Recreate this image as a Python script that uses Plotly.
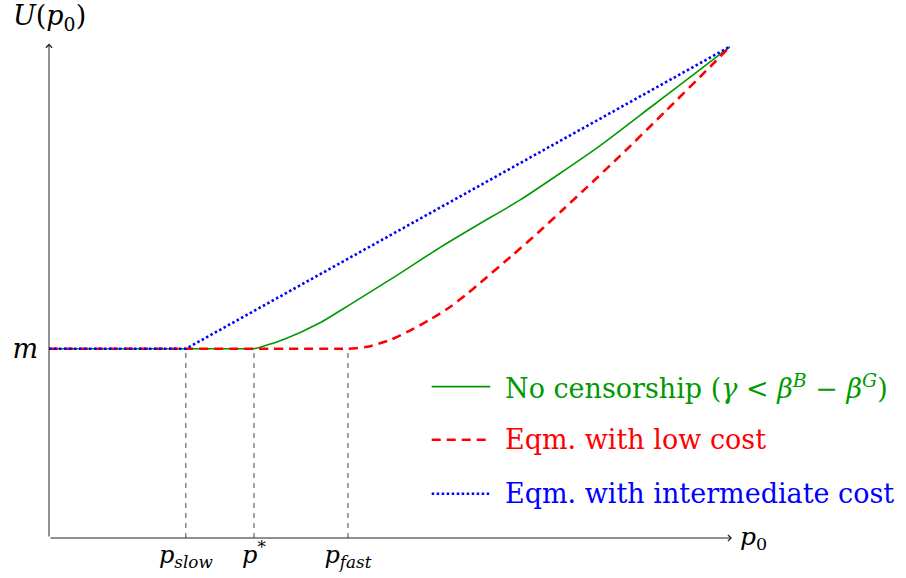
import plotly.graph_objects as go

# ---- data (x: p0 in [0,1], y: U in [0,1]) ----
m_level = 0.385
p_slow = 0.201
p_star = 0.301
p_fast = 0.439

green_x = [0.0, 0.29, 0.301, 0.3465, 0.398, 0.442, 0.508, 0.574, 0.633, 0.692, 0.809, 0.883, 0.956, 1.0]
green_y = [0.385, 0.385, 0.385, 0.405, 0.438, 0.475, 0.532, 0.591, 0.640, 0.688, 0.798, 0.876, 0.953, 1.0]

red_x = [0.0, 0.425, 0.439, 0.467, 0.501, 0.530, 0.559, 0.589, 0.614, 0.633, 0.681, 0.718, 0.753, 0.787, 0.839, 0.905, 0.971, 1.0]
red_y = [0.385, 0.385, 0.385, 0.389, 0.403, 0.422, 0.444, 0.470, 0.497, 0.519, 0.576, 0.621, 0.666, 0.710, 0.778, 0.868, 0.959, 1.0]

blue_x = [0.0, 0.201, 1.0]
blue_y = [0.385, 0.385, 1.0]

tick_vals = [p_slow, p_star, p_fast]
tick_text = ["<i>p</i><sub><i>slow</i></sub>", "<i>p</i><sup>*</sup>", "<i>p</i><sub><i>fast</i></sub>"]

legend_names = [
    "No censorship (<i>γ</i> &lt; <i>β</i><sup><i>B</i></sup> − <i>β</i><sup><i>G</i></sup>)",
    "Eqm. with low cost",
    "Eqm. with intermediate cost",
]
GREEN = "rgb(0,153,0)"
RED = "rgb(255,0,0)"
BLUE = "rgb(0,0,255)"
colors = [GREEN, RED, BLUE]
dashes = ["solid", "9px,6px", "2.5px,2.5px"]
widths = [1.6, 2.6, 2.6]

FONT = "DejaVu Serif"

fig = go.Figure()

# vertical dashed guides
for xv in tick_vals:
    fig.add_trace(go.Scatter(x=[xv, xv], y=[0, m_level], mode="lines",
                             line=dict(color="#444", width=1, dash="5px,5px"),
                             showlegend=False, hoverinfo="skip"))

fig.add_trace(go.Scatter(x=green_x, y=green_y, mode="lines",
                         line=dict(color=GREEN, width=widths[0], shape="spline", smoothing=0.6),
                         showlegend=False))
fig.add_trace(go.Scatter(x=red_x, y=red_y, mode="lines",
                         line=dict(color=RED, width=widths[1], dash=dashes[1], shape="spline", smoothing=0.6),
                         showlegend=False))
fig.add_trace(go.Scatter(x=blue_x, y=blue_y, mode="lines",
                         line=dict(color=BLUE, width=widths[2], dash=dashes[2]), showlegend=False))

# manual legend
leg_rows = [0.308, 0.200, 0.090]
for name, col, dsh, w, yr in zip(legend_names, colors, dashes, widths, leg_rows):
    fig.add_trace(go.Scatter(x=[0.562, 0.648], y=[yr, yr], mode="lines",
                             line=dict(color=col, width=w, dash=dsh),
                             showlegend=False, hoverinfo="skip"))
    fig.add_annotation(x=0.667, y=yr, xref="x", yref="y", text=name, showarrow=False,
                       xanchor="left", yanchor="middle",
                       font=dict(family=FONT, size=27, color=col))

# axes with arrows
fig.add_annotation(x=1.003, y=0, ax=0, ay=0, xref="x", yref="y", axref="x", ayref="y",
                   showarrow=True, arrowhead=4, arrowsize=1.2, arrowwidth=1, arrowcolor="#222", text="")
fig.add_annotation(x=0, y=1.006, ax=0, ay=0, xref="x", yref="y", axref="x", ayref="y",
                   showarrow=True, arrowhead=4, arrowsize=1.2, arrowwidth=1, arrowcolor="#222", text="")

# axis labels
fig.add_annotation(x=1.012, y=0, xref="x", yref="y", text="<i>p</i><sub>0</sub>", showarrow=False,
                   xanchor="left", yanchor="middle", font=dict(family=FONT, size=25, color="black"))
fig.add_annotation(x=0, y=1.0, xref="x", yref="y", text="<i>U</i>(<i>p</i><sub>0</sub>)", showarrow=False,
                   xanchor="center", yanchor="bottom", xshift=0, yshift=10,
                   font=dict(family=FONT, size=27, color="black"))

fig.update_layout(
    width=906, height=578,
    margin=dict(l=49, r=142, t=22, b=40),
    plot_bgcolor="white", paper_bgcolor="white",
    xaxis=dict(range=[0, 1.05], showgrid=False, zeroline=False, showline=False, automargin=False,
               tickvals=tick_vals, ticktext=tick_text, ticks="", ticklabelstandoff=0,
               tickfont=dict(family=FONT, size=24, color="black")),
    yaxis=dict(range=[0, 1.05], showgrid=False, zeroline=False, showline=False, automargin=False,
               tickvals=[m_level], ticktext=["<i>m</i>"], ticks="", ticklabelstandoff=10,
               tickfont=dict(family=FONT, size=27, color="black")),
)
fig.update_traces(cliponaxis=False)

fig.write_html("out.html", config={"displayModeBar": False},
               post_script="document.body.style.margin='0';document.body.style.overflow='hidden';")
